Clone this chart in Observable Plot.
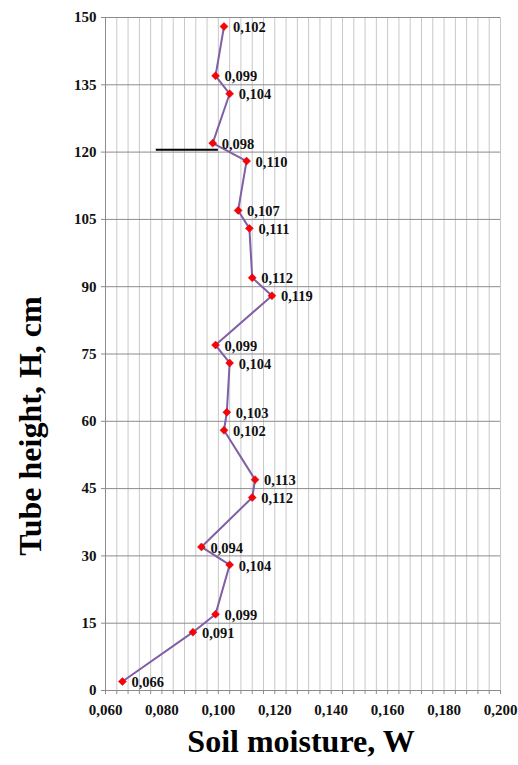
<!DOCTYPE html>
<html>
<head>
<meta charset="utf-8">
<script src="https://cdn.jsdelivr.net/npm/d3@7"></script>
<script src="https://cdn.jsdelivr.net/npm/@observablehq/plot@0.6"></script>
<style>
  html, body { margin: 0; padding: 0; background: #fff; }
</style>
</head>
<body>
<div id="chart"></div>
<script>
const heights = [148, 137, 133, 122, 118, 107, 103, 92, 88, 77, 73, 62, 58, 47, 43, 32, 28, 17, 13, 2];
const moisture = [0.102, 0.099, 0.104, 0.098, 0.110, 0.107, 0.111, 0.112, 0.119, 0.099, 0.104, 0.103, 0.102, 0.113, 0.112, 0.094, 0.104, 0.099, 0.091, 0.066];
const xTicks = [0.06, 0.08, 0.10, 0.12, 0.14, 0.16, 0.18, 0.20];
const yTicks = [0, 15, 30, 45, 60, 75, 90, 105, 120, 135, 150];
const xMinor = d3.range(0, 36).map(i => +(0.06 + i * 0.004).toFixed(3));
const markerSegment = [{x1: 0.078, x2: 0.100, y: 120.5}];
const xLabel = "Soil moisture, W";
const yLabel = "Tube height, H, cm";

const data = heights.map((h, i) => ({h, w: moisture[i]}));
const fmt = v => v.toFixed(3).replace(".", ",");
const serif = "'Liberation Serif', 'Times New Roman', serif";

const chart = Plot.plot({
  width: 518,
  height: 765,
  marginLeft: 105,
  marginRight: 18,
  marginTop: 17,
  marginBottom: 75,
  style: {fontFamily: serif, background: "#fff"},
  x: {type: "linear", domain: [0.06, 0.20]},
  y: {type: "linear", domain: [0, 150]},
  marks: [
    Plot.ruleX(xMinor, {stroke: "#c8c8c8", strokeWidth: 1, strokeOpacity: 1}),
    Plot.ruleY(yTicks, {stroke: "#8c8c8c", strokeWidth: 1, strokeOpacity: 1}),
    Plot.ruleX([0.06], {stroke: "#8c8c8c"}),
    Plot.ruleY([0], {stroke: "#8c8c8c"}),
    Plot.axisX({ticks: xMinor, tickSize: 4, tickFormat: () => "", stroke: "#8c8c8c", strokeOpacity: 1, label: null}),
    Plot.axisX({ticks: xTicks, tickSize: 0, tickPadding: 14, tickFormat: fmt, fontSize: 15, fontWeight: "bold", fill: "#111", label: null}),
    Plot.axisY({ticks: yTicks, tickSize: 4, tickPadding: 5, stroke: "#8c8c8c", strokeOpacity: 1, fontSize: 15, fontWeight: "bold", fill: "#111", label: null}),
    Plot.ruleY(markerSegment, {x1: "x1", x2: "x2", y: "y", stroke: "#000", strokeWidth: 2}),
    Plot.line(data, {x: "w", y: "h", stroke: "#7f5fa6", strokeWidth: 2, curve: "linear"}),
    Plot.dot(data, {x: "w", y: "h", symbol: "diamond2", r: 3.6, fill: "#ff0000", stroke: "#c00020", strokeWidth: 0.5}),
    Plot.text(data, {x: "w", y: "h", text: d => fmt(d.w), textAnchor: "start", dx: 9, dy: 1, fontSize: 14.5, fontWeight: "bold", fill: "#111"}),
    Plot.text([xLabel], {frameAnchor: "bottom", textAnchor: "middle", dx: -2, dy: 61, fontSize: 32, fontWeight: "bold", fill: "#000", text: d => d}),
    Plot.text([yLabel], {frameAnchor: "left", textAnchor: "middle", dx: -75, dy: 72, rotate: -90, fontSize: 32, fontWeight: "bold", fill: "#000", text: d => d})
  ]
});
document.getElementById("chart").appendChild(chart);
</script>
</body>
</html>
